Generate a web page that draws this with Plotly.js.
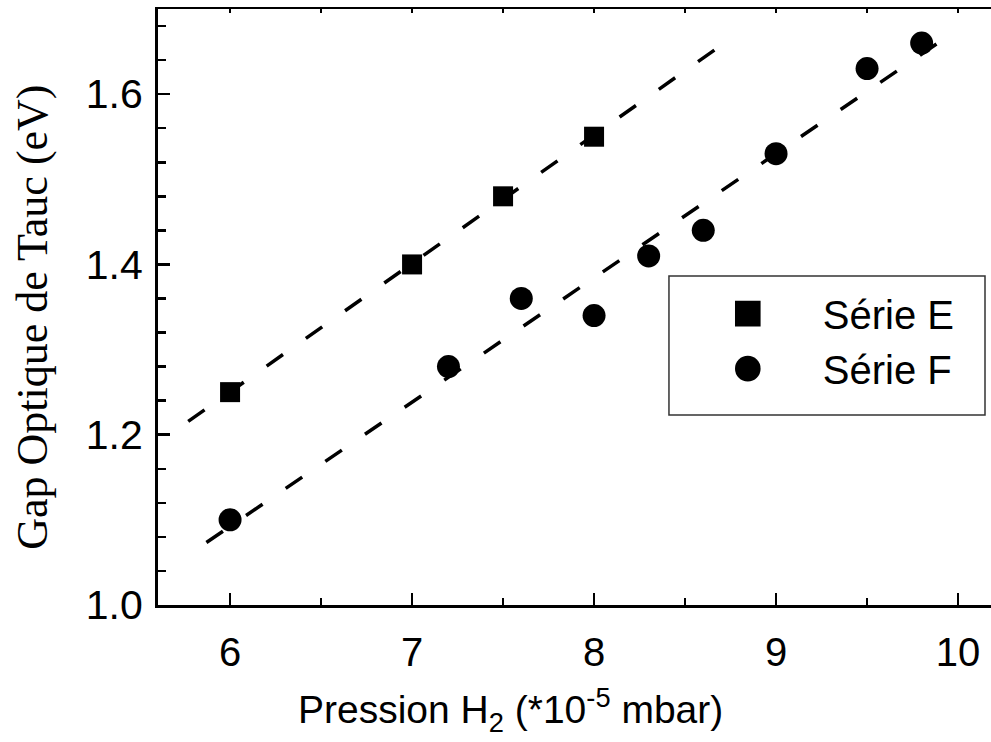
<!DOCTYPE html>
<html>
<head>
<meta charset="utf-8">
<script src="https://cdn.plot.ly/plotly-3.0.1.min.js"></script>
<style>html,body{margin:0;padding:0;background:#fff;}#chart{width:991px;height:742px;}</style>
</head>
<body>
<div id="chart"></div>
<script>
// Data
const serieE_x = [6, 7, 7.5, 8];
const serieE_y = [1.25, 1.40, 1.48, 1.55];
const serieF_x = [6, 7.2, 7.6, 8, 8.3, 8.6, 9, 9.5, 9.8];
const serieF_y = [1.10, 1.28, 1.36, 1.34, 1.41, 1.44, 1.53, 1.63, 1.66];
// x extent of the linear fits
const fitE_x = [5.77, 8.68];
const fitF_x = [5.87, 9.9];
const xTickVals = [6, 7, 8, 9, 10];
const yTickVals = [1.0, 1.2, 1.4, 1.6];
const xTitle = 'Pression H<sub>2</sub> (*10<sup>-5</sup> mbar)';
const yTitle = 'Gap Optique de Tauc (eV)';

function linfit(xs, ys) {
  const n = xs.length;
  const mx = xs.reduce((a, b) => a + b, 0) / n;
  const my = ys.reduce((a, b) => a + b, 0) / n;
  let sxy = 0, sxx = 0;
  for (let i = 0; i < n; i++) { sxy += (xs[i] - mx) * (ys[i] - my); sxx += (xs[i] - mx) ** 2; }
  const b = sxy / sxx, a = my - b * mx;
  return x => a + b * x;
}
const fE = linfit(serieE_x, serieE_y);
const fF = linfit(serieF_x, serieF_y);

const SANS = 'Liberation Sans, Arial, sans-serif';
const SERIF = 'Liberation Serif, Times New Roman, serif';
const dashLine = {color: '#000', width: 3.5, dash: '20px,28px'};

const traces = [
  {x: fitE_x, y: fitE_x.map(fE), mode: 'lines', line: dashLine, showlegend: false, hoverinfo: 'skip'},
  {x: fitF_x, y: fitF_x.map(fF), mode: 'lines', line: dashLine, showlegend: false, hoverinfo: 'skip'},
  {x: serieE_x, y: serieE_y, mode: 'markers', name: 'Série E',
   marker: {symbol: 'square', size: 20, color: '#000'}},
  {x: serieF_x, y: serieF_y, mode: 'markers', name: 'Série F',
   marker: {symbol: 'circle', size: 23, color: '#000'}},
  {x: [], y: [], xaxis: 'x2', mode: 'markers', showlegend: false, hoverinfo: 'skip'}
];

const layout = {
  width: 991, height: 742,
  margin: {l: 158, r: 0, t: 9, b: 137},
  paper_bgcolor: '#fff', plot_bgcolor: '#fff',
  font: {family: SANS, size: 40, color: '#000'},
  showlegend: true,
  legend: {x: 0.618, y: 0.5434, xanchor: 'left', yanchor: 'top',
    bgcolor: 'rgba(0,0,0,0)', borderwidth: 0, itemwidth: 140,
    font: {family: SANS, size: 40, color: '#000'}},
  shapes: [{type: 'rect', xref: 'paper', yref: 'paper',
    x0: 0.6134, x1: 0.9928, y0: 0.3188, y1: 0.552,
    line: {color: '#333', width: 1.5}, fillcolor: 'rgba(0,0,0,0)', layer: 'below'}],
  annotations: [
    {text: xTitle, xref: 'paper', yref: 'paper', x: 0.4226, y: -0.1258,
     xanchor: 'center', yanchor: 'top', showarrow: false,
     font: {family: SANS, size: 39, color: '#000'}},
    {text: yTitle, xref: 'paper', yref: 'paper', x: -0.150, y: 0.482, textangle: -90,
     xanchor: 'center', yanchor: 'middle', showarrow: false,
     font: {family: SERIF, size: 44, color: '#000'}}
  ],
  xaxis: {
    range: [5.604, 10.181], tickvals: xTickVals, ticktext: xTickVals.map(String),
    ticks: 'inside', ticklen: 12, tickwidth: 2.5, tickcolor: '#000',
    minor: {dtick: 0.5, tick0: 0, ticks: 'inside', ticklen: 7, tickwidth: 2.5, tickcolor: '#000', showgrid: false},
    showline: true, linewidth: 3, linecolor: '#000', mirror: false,
    showgrid: false, zeroline: false,
    tickfont: {family: SANS, size: 40, color: '#000'}, ticklabelstandoff: 10
  },
  xaxis2: {
    overlaying: 'x', side: 'top', range: [5.604, 10.181], matches: 'x',
    showticklabels: false, ticks: 'inside', dtick: 0.5, tick0: 0, ticklen: 4, tickwidth: 1.5, tickcolor: '#000',
    showline: true, linewidth: 2.5, linecolor: '#000', showgrid: false, zeroline: false
  },
  yaxis: {
    range: [1.0, 1.7], tickvals: yTickVals, ticktext: yTickVals.map(v => v.toFixed(1)),
    ticks: 'inside', ticklen: 12, tickwidth: 2.5, tickcolor: '#000',
    minor: {dtick: 0.04, tick0: 1.0, ticks: 'inside', ticklen: 8, tickwidth: 2.5, tickcolor: '#000', showgrid: false},
    showline: true, linewidth: 3, linecolor: '#000', mirror: false,
    showgrid: false, zeroline: false,
    tickfont: {family: SANS, size: 41, color: '#000'}, ticklabelstandoff: 4
  }
};

Plotly.newPlot('chart', traces, layout, {displayModeBar: false, staticPlot: true}).then(gd => {
  // enlarge legend symbols (Plotly caps them at 16px) to match the reference
  gd.querySelectorAll('.legend .legendpoints path').forEach(p => {
    const t = p.getAttribute('transform') || '';
    p.setAttribute('transform', t + ' scale(1.6)');
  });
});
</script>
</body>
</html>
